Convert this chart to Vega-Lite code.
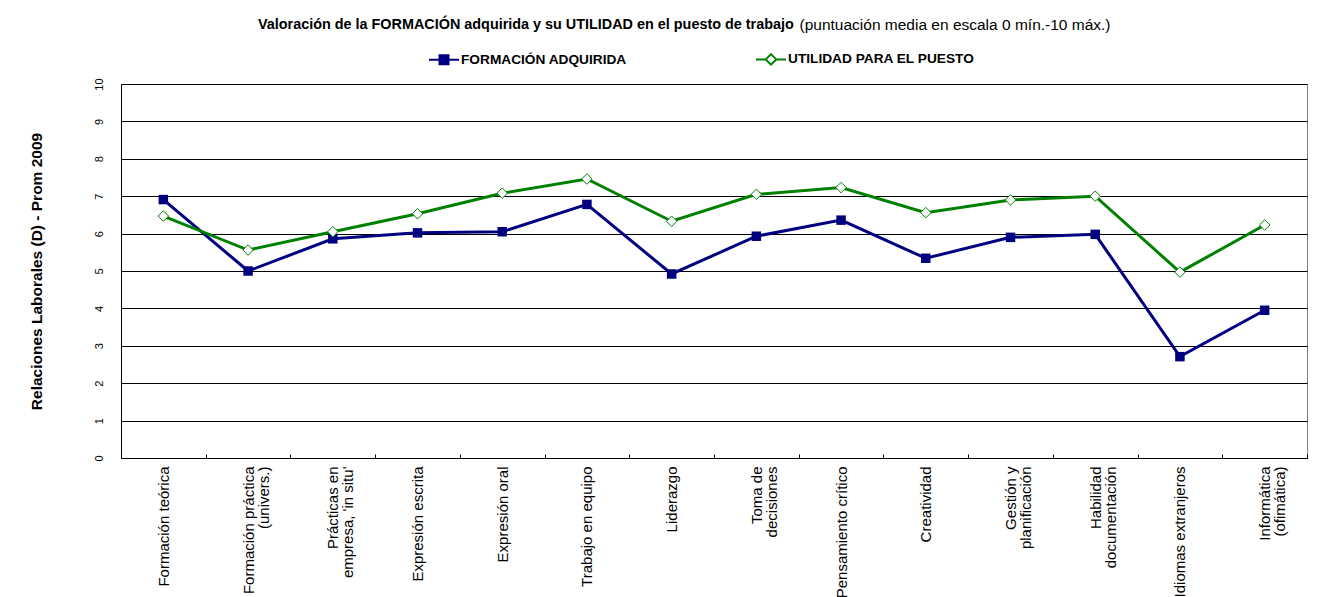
{
  "$schema": "https://vega.github.io/schema/vega-lite/v6.json",
  "width": 1186,
  "height": 374,
  "autosize": "none",
  "padding": {"left": 121, "top": 84, "right": 15, "bottom": 139},
  "background": "white",
  "config": {
    "font": "Liberation Sans",
    "view": {"stroke": "#808080", "strokeWidth": 1}
  },
  "title": {
    "text": "Valoración de la FORMACIÓN adquirida y su UTILIDAD en el puesto de trabajo",
    "anchor": "start",
    "frame": "group",
    "dx": 137,
    "dy": 25,
    "fontSize": 14.4,
    "fontWeight": "bold",
    "color": "black",
    "offset": 10
  },
  "data": {
    "values": [
      {"cat": "Formación teórica", "serie": "FORMACIÓN ADQUIRIDA", "valor": 6.91},
      {"cat": "Formación práctica\n(univers.)", "serie": "FORMACIÓN ADQUIRIDA", "valor": 5.0},
      {"cat": "Prácticas en\nempresa, 'in situ'", "serie": "FORMACIÓN ADQUIRIDA", "valor": 5.86},
      {"cat": "Expresión escrita", "serie": "FORMACIÓN ADQUIRIDA", "valor": 6.02},
      {"cat": "Expresión oral", "serie": "FORMACIÓN ADQUIRIDA", "valor": 6.05},
      {"cat": "Trabajo en equipo", "serie": "FORMACIÓN ADQUIRIDA", "valor": 6.78},
      {"cat": "Liderazgo", "serie": "FORMACIÓN ADQUIRIDA", "valor": 4.92},
      {"cat": "Toma de\ndecisiones", "serie": "FORMACIÓN ADQUIRIDA", "valor": 5.93},
      {"cat": "Pensamiento crítico", "serie": "FORMACIÓN ADQUIRIDA", "valor": 6.36},
      {"cat": "Creatividad", "serie": "FORMACIÓN ADQUIRIDA", "valor": 5.34},
      {"cat": "Gestión y\nplanificación", "serie": "FORMACIÓN ADQUIRIDA", "valor": 5.9},
      {"cat": "Habilidad\ndocumentación", "serie": "FORMACIÓN ADQUIRIDA", "valor": 5.98},
      {"cat": "Idiomas extranjeros", "serie": "FORMACIÓN ADQUIRIDA", "valor": 2.71},
      {"cat": "Informática\n(ofimática)", "serie": "FORMACIÓN ADQUIRIDA", "valor": 3.95},
      {"cat": "Formación teórica", "serie": "UTILIDAD PARA EL PUESTO", "valor": 6.47},
      {"cat": "Formación práctica\n(univers.)", "serie": "UTILIDAD PARA EL PUESTO", "valor": 5.56},
      {"cat": "Prácticas en\nempresa, 'in situ'", "serie": "UTILIDAD PARA EL PUESTO", "valor": 6.05},
      {"cat": "Expresión escrita", "serie": "UTILIDAD PARA EL PUESTO", "valor": 6.53},
      {"cat": "Expresión oral", "serie": "UTILIDAD PARA EL PUESTO", "valor": 7.08},
      {"cat": "Trabajo en equipo", "serie": "UTILIDAD PARA EL PUESTO", "valor": 7.46},
      {"cat": "Liderazgo", "serie": "UTILIDAD PARA EL PUESTO", "valor": 6.33},
      {"cat": "Toma de\ndecisiones", "serie": "UTILIDAD PARA EL PUESTO", "valor": 7.05},
      {"cat": "Pensamiento crítico", "serie": "UTILIDAD PARA EL PUESTO", "valor": 7.23},
      {"cat": "Creatividad", "serie": "UTILIDAD PARA EL PUESTO", "valor": 6.56},
      {"cat": "Gestión y\nplanificación", "serie": "UTILIDAD PARA EL PUESTO", "valor": 6.9},
      {"cat": "Habilidad\ndocumentación", "serie": "UTILIDAD PARA EL PUESTO", "valor": 7.0},
      {"cat": "Idiomas extranjeros", "serie": "UTILIDAD PARA EL PUESTO", "valor": 4.97},
      {"cat": "Informática\n(ofimática)", "serie": "UTILIDAD PARA EL PUESTO", "valor": 6.23}
    ]
  },
  "encoding": {
    "y": {
      "field": "valor",
      "type": "quantitative",
      "scale": {"domain": [0, 10], "nice": false},
      "axis": {
        "values": [0, 1, 2, 3, 4, 5, 6, 7, 8, 9, 10],
        "title": "Relaciones Laborales (D) - Prom 2009",
        "titleFontSize": 15.5,
        "titleFontWeight": "bold",
        "titleColor": "black",
        "titlePadding": 49,
        "labelAngle": -90,
        "labelFontSize": 11,
        "labelColor": "black",
        "labelPadding": 17,
        "ticks": false,
        "grid": true,
        "gridColor": "black",
        "gridOpacity": 1,
        "domainColor": "black"
      }
    }
  },
  "resolve": {"axis": {"x": "independent"}},
  "layer": [
    {
      "mark": {"type": "line", "strokeWidth": 3},
      "encoding": {
        "x": {
          "field": "cat",
          "type": "nominal",
          "sort": null,
          "scale": {"type": "band", "paddingInner": 0, "paddingOuter": 0},
          "axis": {
            "title": null,
            "labelAngle": -90,
            "labelFontSize": 15,
            "labelLineHeight": 15,
            "labelColor": "black",
            "labelPadding": 12,
            "labelLimit": 300,
            "labelExpr": "split(datum.label, '\\n')",
            "tickBand": "extent",
            "tickColor": "black",
            "tickSize": -4,
            "domainColor": "black",
            "grid": false
          }
        },
        "color": {
          "field": "serie",
          "type": "nominal",
          "scale": {"domain": ["FORMACIÓN ADQUIRIDA", "UTILIDAD PARA EL PUESTO"], "range": ["#000080", "#008000"]},
          "legend": {
            "title": null,
            "orient": "none",
            "direction": "horizontal",
            "legendX": 307,
            "legendY": -41,
            "labelFontSize": 13.7,
            "labelFontWeight": "bold",
            "labelColor": "black",
            "labelOffset": 1,
            "labelLimit": 400,
            "columnPadding": 125,
            "symbolSize": 900,
            "symbolStrokeWidth": 2,
            "encode": {
              "symbols": {
                "update": {
                  "shape": {"signal": "datum.value === 'FORMACIÓN ADQUIRIDA' ? 'M-1,0H-0.3M0.3,0H1M-0.3,-0.3H0.3V0.3H-0.3Z' : 'M-1,0H-0.35M0.35,0H1M0,-0.35L0.35,0L0,0.35L-0.35,0Z'"},
                  "fill": {"signal": "datum.value === 'FORMACIÓN ADQUIRIDA' ? '#000080' : 'white'"},
                  "fillOpacity": {"value": 1},
                  "strokeWidth": {"value": 2}
                }
              }
            }
          }
        }
      }
    },
    {
      "transform": [{"filter": "datum.serie === 'FORMACIÓN ADQUIRIDA'"}],
      "mark": {"type": "point", "shape": "square", "size": 90, "filled": true, "color": "#000080", "opacity": 1},
      "encoding": {
        "x": {"field": "cat", "type": "nominal", "sort": null, "axis": null}
      }
    },
    {
      "transform": [{"filter": "datum.serie === 'UTILIDAD PARA EL PUESTO'"}],
      "mark": {"type": "point", "shape": "diamond", "size": 110, "filled": true, "fill": "white", "stroke": "#008000", "strokeWidth": 1, "opacity": 1},
      "encoding": {
        "x": {
          "field": "cat",
          "type": "nominal",
          "sort": null,
          "axis": {
            "orient": "top",
            "title": "(puntuación media en escala 0 mín.-10 máx.)",
            "titleFontSize": 15.5,
            "titleFontWeight": "normal",
            "titleColor": "black",
            "titleAlign": "left",
            "titleAnchor": "start",
            "titleBaseline": "alphabetic",
            "titleX": 678,
            "titleY": -55,
            "labels": false,
            "ticks": false,
            "domain": false,
            "grid": false
          }
        }
      }
    }
  ]
}
